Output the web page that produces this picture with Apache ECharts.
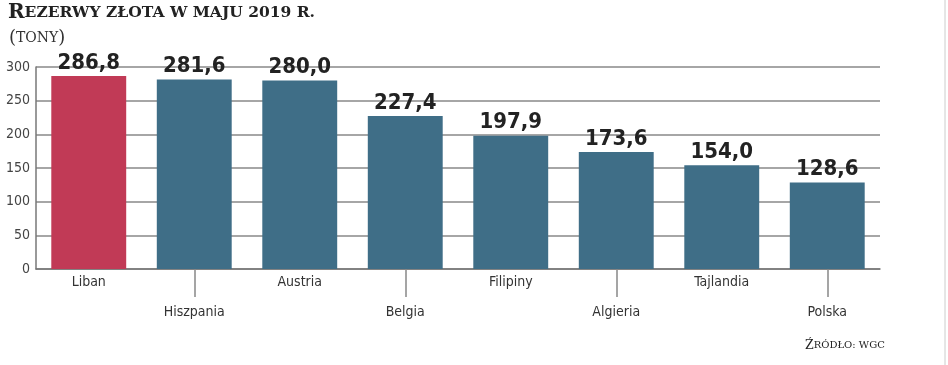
<!DOCTYPE html>
<html><head><meta charset="utf-8">
<script src="https://cdn.jsdelivr.net/npm/echarts@6/dist/echarts.min.js"></script>
<style>html,body{margin:0;padding:0;background:#fff}#c{width:948px;height:365px}</style>
</head><body><div id="c"></div>
<script>
const categories = ["Liban","Hiszpania","Austria","Belgia","Filipiny","Algieria","Tajlandia","Polska"];
const values = [286.8, 281.6, 280.0, 227.4, 197.9, 173.6, 154.0, 128.6];
const yTicks = [0, 50, 100, 150, 200, 250, 300];
const highlightIndex = 0;

const condensed = '"DejaVu Sans Condensed", "Liberation Sans Narrow", sans-serif';
const serif = '"DejaVu Serif", "Liberation Serif", serif';
const chart = echarts.init(document.getElementById('c'));
chart.setOption({
  animation: false,
  backgroundColor: '#fff',
  grid: { left: 36, right: 68, top: 67, bottom: 96, containLabel: false },
  title: [
    { left: 3, top: -2, text: '{a|R}{b|EZERWY ZŁOTA W MAJU 2019 R.}',
      textStyle: { rich: {
        a: { fontFamily: serif, fontWeight: 'bold', fontSize: 20, color: '#222' },
        b: { fontFamily: serif, fontWeight: 'bold', fontSize: 15.5, color: '#222' } } } },
    { left: 4, top: 24, text: '{a|(}{b|TONY}{a|)}',
      textStyle: { rich: {
        a: { fontFamily: serif, fontWeight: 'normal', fontSize: 18, color: '#333' },
        b: { fontFamily: serif, fontWeight: 'normal', fontSize: 14, color: '#333' } } } },
    { left: 800, top: 334, text: '{a|Ź}{b|RÓDŁO: WGC}',
      textStyle: { rich: {
        a: { fontFamily: serif, fontWeight: 'normal', fontSize: 12.5, color: '#222' },
        b: { fontFamily: serif, fontWeight: 'normal', fontSize: 10, color: '#222' } } } }
  ],
  graphic: [{ type: 'line', shape: { x1: 945, y1: 0, x2: 945, y2: 365 }, style: { stroke: '#ccc', lineWidth: 1 } }],
  xAxis: {
    type: 'category', data: categories,
    axisLine: { show: true, lineStyle: { color: '#777', width: 1.5 } },
    axisTick: { show: true, alignWithLabel: true, length: 28,
      interval: (i) => i % 2 === 1, lineStyle: { color: '#888', width: 1.5 } },
    axisLabel: { interval: 0, fontFamily: condensed, fontSize: 14, color: '#333', margin: 6,
      formatter: (v, i) => i % 2 === 1 ? '{low|' + v + '}' : v,
      rich: { low: { fontFamily: condensed, fontSize: 14, color: '#333', padding: [30, 0, 0, 0] } } }
  },
  yAxis: {
    type: 'value', min: 0, max: 300, interval: 50,
    axisLine: { show: true, lineStyle: { color: '#777', width: 1.5 } },
    axisTick: { show: false },
    splitLine: { show: true, lineStyle: { color: '#888', width: 1.5 } },
    axisLabel: { fontFamily: condensed, fontSize: 14, color: '#444', margin: 6,
      formatter: (v) => yTicks.includes(v) ? String(v) : '' }
  },
  series: [{
    type: 'bar', barCategoryGap: '29%',
    data: values.map((v, i) => ({ value: v,
      itemStyle: { color: i === highlightIndex ? '#c13a56' : '#3f6e87' } })),
    label: { show: true, position: 'top', distance: 2, fontFamily: condensed, fontWeight: 'bold',
      fontSize: 22, color: '#222', formatter: (p) => p.value.toFixed(1).replace('.', ',') }
  }]
});
</script></body></html>
